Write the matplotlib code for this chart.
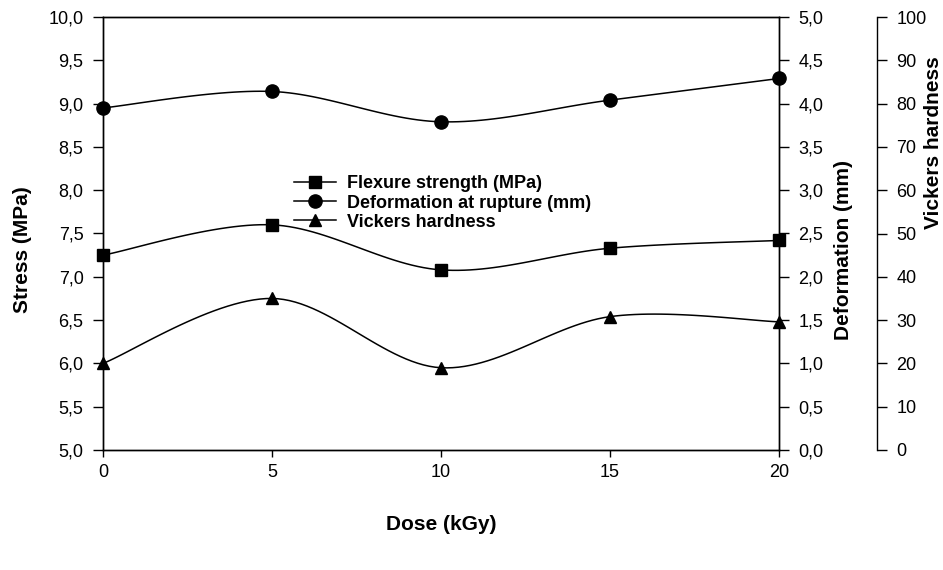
import numpy as np
import matplotlib
matplotlib.use("Agg")
import matplotlib.pyplot as plt
from matplotlib.ticker import FuncFormatter, MultipleLocator
from matplotlib.lines import Line2D

plt.rcParams['font.family'] = ['Liberation Sans', 'DejaVu Sans']

dose = [0, 5, 10, 15, 20]
flexure = [7.25, 7.60, 7.08, 7.33, 7.42]          # Stress (MPa)
deformation = [3.95, 4.14, 3.79, 4.04, 4.29]      # Deformation (mm)
vickers = [20.0, 35.0, 19.0, 30.8, 29.6]          # Vickers hardness

x_ticks = [0, 5, 10, 15, 20]


def smooth(xs, ys, n=30):
    xs = np.asarray(xs, float)
    ys = np.asarray(ys, float)
    px = np.concatenate([[xs[0]], xs, [xs[-1]]])
    py = np.concatenate([[ys[0]], ys, [ys[-1]]])
    outx, outy = [], []
    t = np.linspace(0, 1, n)
    for i in range(1, len(px) - 2):
        p0 = np.array([px[i], py[i]])
        p3 = np.array([px[i + 1], py[i + 1]])
        p1 = p0 + (np.array([px[i + 1], py[i + 1]]) - np.array([px[i - 1], py[i - 1]])) / 6
        p2 = p3 - (np.array([px[i + 2], py[i + 2]]) - np.array([px[i], py[i]])) / 6
        b = ((1 - t) ** 3)[:, None] * p0 + (3 * (1 - t) ** 2 * t)[:, None] * p1 \
            + (3 * (1 - t) * t ** 2)[:, None] * p2 + (t ** 3)[:, None] * p3
        outx.extend(b[:, 0])
        outy.extend(b[:, 1])
    return np.array(outx), np.array(outy)


fig = plt.figure(figsize=(9.43, 5.70), dpi=100)
ax = fig.add_axes([103 / 943, 1 - 450 / 570, 676 / 943, 433 / 570])
ax2 = ax.twinx()
ax3 = ax.twinx()

comma = FuncFormatter(lambda v, p: ("%.1f" % v).replace(".", ","))

lw = 1.1
ms = 8.5
sx, sy = smooth(dose, flexure)
ax.plot(sx, sy, color='black', lw=lw)
ax.plot(dose, flexure, color='black', marker='s', ms=ms, ls='none', clip_on=False)

sx, sy = smooth(dose, deformation)
ax2.plot(sx, sy, color='black', lw=lw)
ax2.plot(dose, deformation, color='black', marker='o', ms=ms + 1, ls='none', clip_on=False)

sx, sy = smooth(dose, vickers)
ax3.plot(sx, sy, color='black', lw=lw)
ax3.plot(dose, vickers, color='black', marker='^', ms=ms, ls='none', clip_on=False)

for a in (ax, ax2, ax3):
    a.set_xlim(0, 20)
    a.patch.set_visible(False)

ax.set_ylim(5, 10)
ax.yaxis.set_major_locator(MultipleLocator(0.5))
ax.yaxis.set_major_formatter(comma)
ax.set_xticks(x_ticks)
ax.set_xticklabels([str(v) for v in x_ticks])

ax2.set_ylim(0, 5)
ax2.yaxis.set_major_locator(MultipleLocator(0.5))
ax2.yaxis.set_major_formatter(comma)

ax3.set_ylim(0, 100)
ax3.yaxis.set_major_locator(MultipleLocator(10))
ax3.spines['right'].set_position(('axes', (877 - 103) / 676))
for s in ('top', 'bottom', 'left'):
    ax3.spines[s].set_visible(False)

for a in (ax, ax2, ax3):
    for s in a.spines.values():
        s.set_linewidth(1.0)
    a.tick_params(axis='both', labelsize=13, width=1.0, length=7, direction='out', pad=7)

ax.tick_params(axis='x', length=5, pad=5)

ax.set_xlabel('Dose (kGy)', fontsize=15, fontweight='bold')
ax.xaxis.set_label_coords(0.5, -(525 - 450) / 433)
ax.set_ylabel('Stress (MPa)', fontsize=15, fontweight='bold')
ax.yaxis.set_label_coords((23 - 103) / 676, (450 - 250) / 433)
ax2.set_ylabel('Deformation (mm)', fontsize=15, fontweight='bold')
ax2.yaxis.set_label_coords((843 - 103) / 676, (450 - 250) / 433)
ax3.set_ylabel('Vickers hardness', fontsize=15, fontweight='bold')
ax3.yaxis.set_label_coords((933 - 103) / 676, (450 - 143) / 433)
for a in (ax, ax2, ax3):
    a.yaxis.label.set_verticalalignment('center')
ax.xaxis.label.set_verticalalignment('center')

handles = [Line2D([], [], color='black', lw=lw, marker='s', ms=ms),
           Line2D([], [], color='black', lw=lw, marker='o', ms=ms + 1),
           Line2D([], [], color='black', lw=lw, marker='^', ms=ms)]
labels = ['Flexure strength (MPa)', 'Deformation at rupture (mm)', 'Vickers hardness']
leg = ax3.legend(handles, labels, loc='center left',
                 bbox_to_anchor=((294 - 103) / 676, (450 - 203) / 433),
                 frameon=False, prop={'weight': 'bold', 'size': 13},
                 handlelength=2.3, handletextpad=0.65, labelspacing=0.12,
                 borderaxespad=0, borderpad=0)

fig.savefig('out.png', dpi=100)
